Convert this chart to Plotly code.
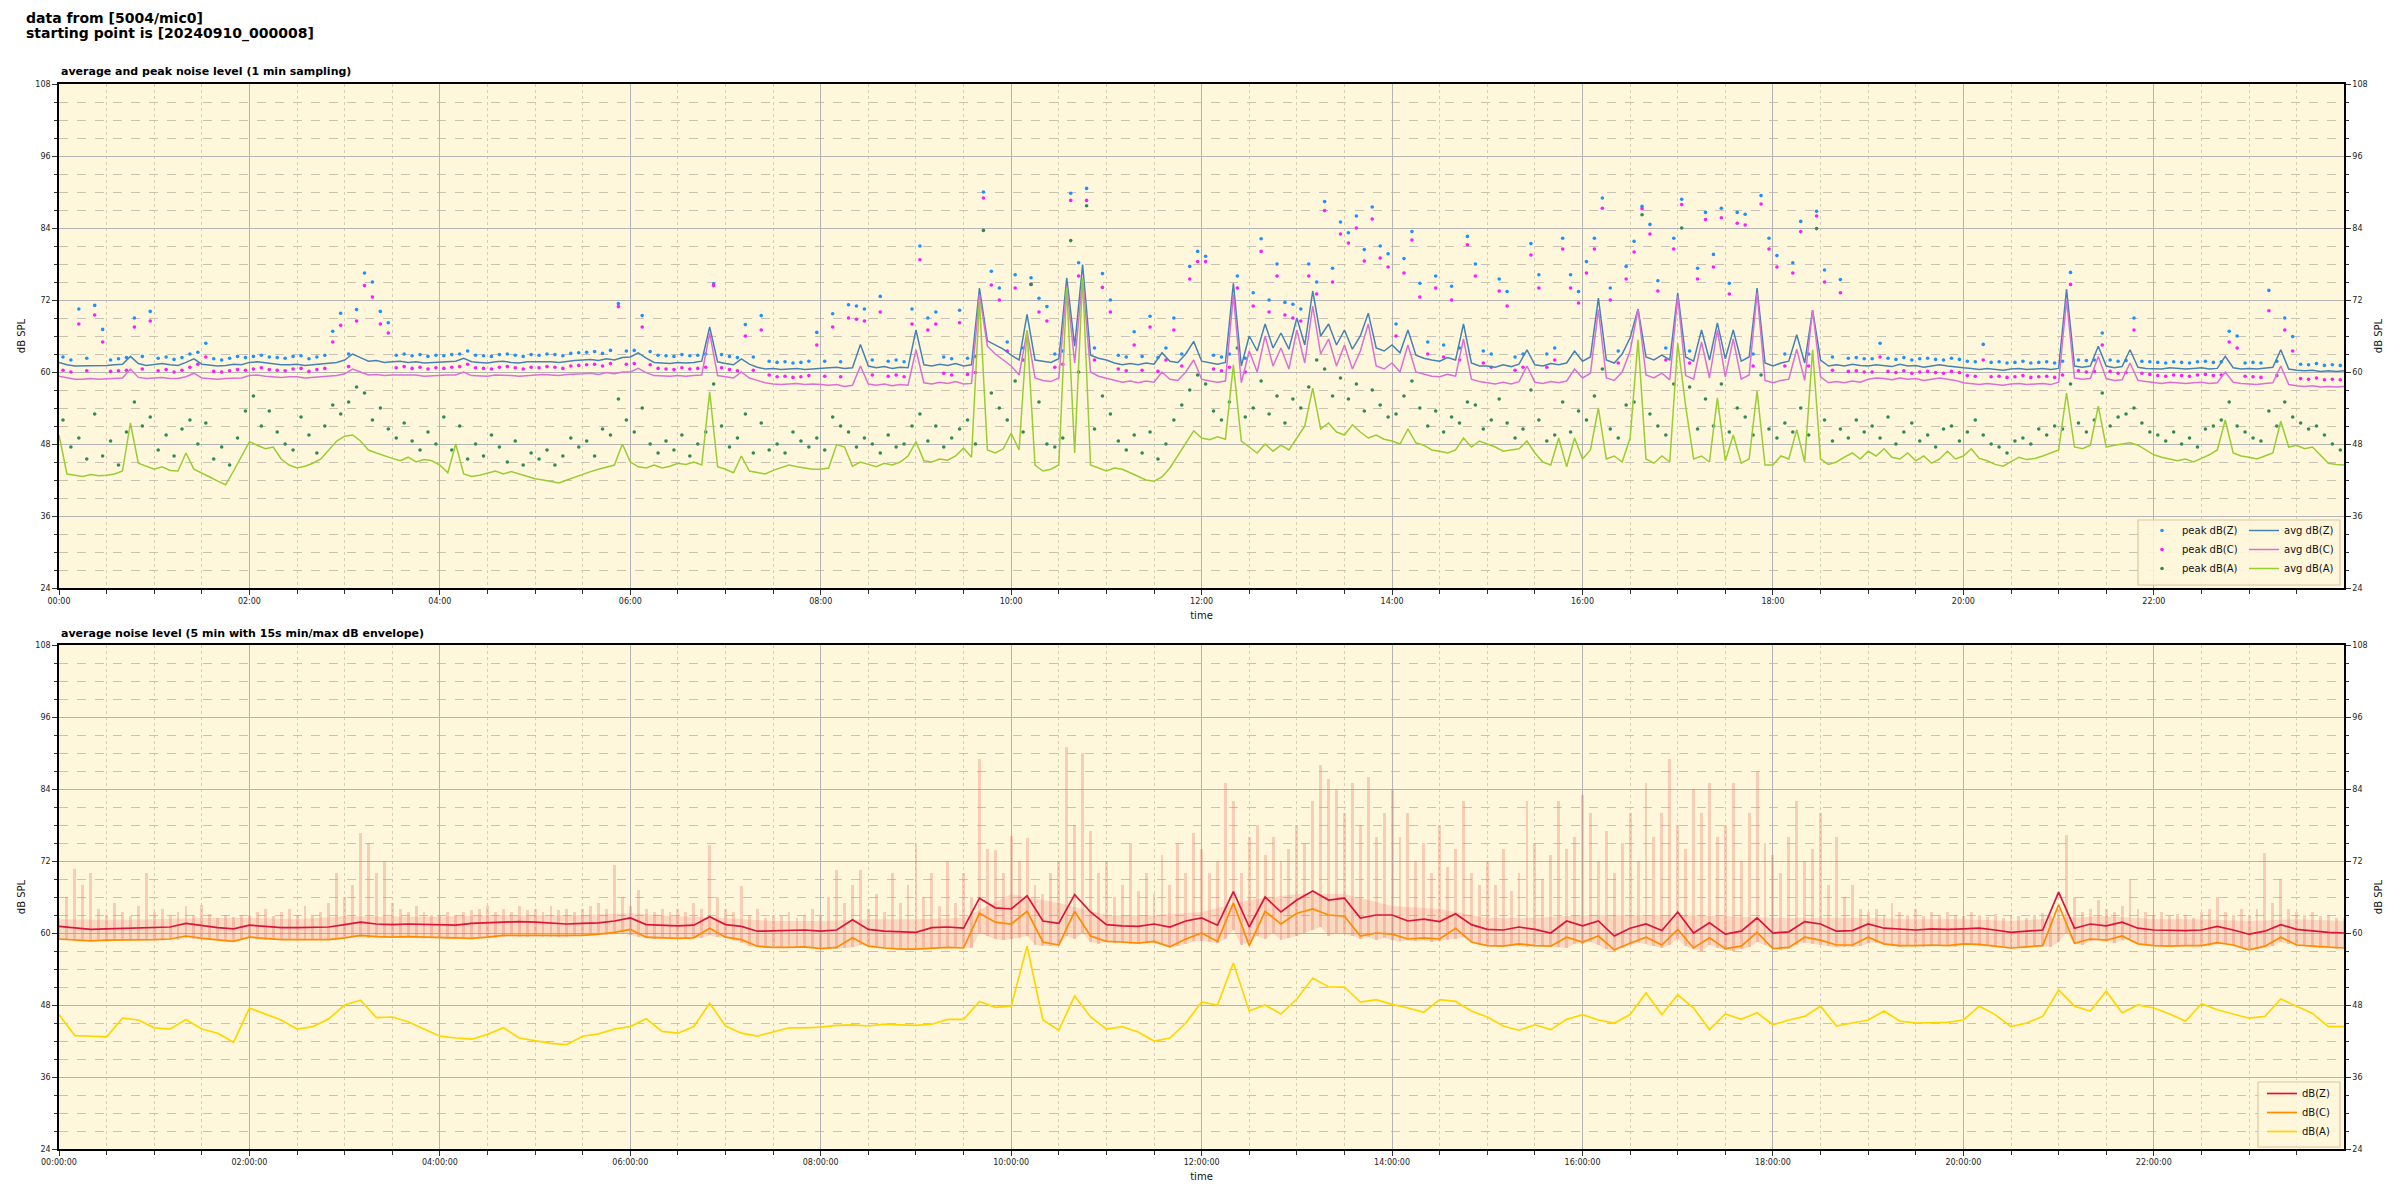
import pandas as pd
import plotly.graph_objects as go

START = "2024-09-10 00:00:00"
END = "2024-09-10 23:59:50"

# ---------------- top chart: 1 min sampling (read at 5-min steps) ----------------
avg_z = [
    61.6, 61.2, 61.0, 61.0, 61.1, 61.0, 61.1, 61.2, 61.3, 62.6, 61.4, 61.1,
    61.3, 61.4, 61.2, 61.1, 61.6, 62.2, 61.3, 61.2, 61.0, 61.1, 61.3, 61.2,
    61.6, 61.7, 61.5, 61.3, 61.2, 61.2, 61.3, 61.1, 61.2, 61.4, 61.5, 61.6,
    62.0, 63.0, 62.4, 61.8, 61.9, 61.6, 61.7, 61.8, 61.6, 61.7, 61.5, 61.6,
    61.6, 61.7, 61.8, 62.3, 61.7, 61.6, 61.5, 61.7, 61.8, 61.6, 61.5, 61.7,
    61.7, 61.8, 61.7, 61.6, 61.8, 61.9, 62.0, 62.1, 61.9, 62.2, 62.0, 62.4,
    62.5, 63.2, 62.3, 61.6, 61.5, 61.4, 61.6, 61.5, 61.6, 61.8, 67.5, 61.7,
    61.4, 61.2, 62.2, 61.3, 60.8, 60.5, 60.6, 60.4, 60.5, 60.6, 60.4, 60.5,
    60.6, 60.7, 60.8, 60.6, 60.7, 64.6, 61.0, 60.7, 60.9, 60.6, 60.8, 60.7,
    67.0, 61.2, 61.0, 61.3, 61.1, 61.4, 61.0, 61.2, 74.0, 65.2, 64.5, 63.8,
    62.8, 62.0, 69.6, 62.0, 61.8, 61.6, 62.2, 75.7, 64.3, 77.9, 62.8, 62.3,
    62.0, 61.5, 61.2, 61.4, 61.2, 61.5, 61.3, 63.2, 61.8, 61.6, 63.0, 65.1,
    61.8, 61.5, 61.3, 61.6, 74.8, 61.0, 66.0, 63.5, 68.0, 64.0, 66.5, 63.8,
    69.0, 64.5, 73.5, 66.0, 68.0, 64.5, 67.0, 63.8, 66.0, 69.8, 64.0, 63.5,
    64.5, 63.2, 67.0, 62.8, 62.3, 62.0, 61.8, 62.4, 62.0, 68.0, 61.5, 61.0,
    61.0, 60.8, 61.2, 60.9, 61.3, 63.7, 61.2, 61.0, 61.4, 61.2, 61.5, 63.5,
    61.8, 62.5, 72.3, 62.0, 61.5, 63.0, 65.7, 70.5, 62.5, 62.0, 62.8, 62.0,
    73.2, 62.5, 61.8, 67.0, 62.0, 68.2, 62.2, 67.0, 61.8, 62.5, 74.0, 61.5,
    61.0, 61.5, 61.8, 66.2, 61.5, 70.3, 62.0, 61.0, 61.2, 61.0, 61.3, 61.1,
    61.0, 61.2, 61.1, 60.9, 61.3, 61.0, 61.1, 60.8, 61.0, 61.2, 61.0, 60.8,
    60.7, 60.6, 60.4, 60.6, 60.5, 60.3, 60.5, 60.6, 60.4, 60.5, 60.6, 60.4,
    60.6, 73.8, 61.0, 60.8, 61.0, 64.3, 61.0, 60.7, 60.9, 63.7, 60.8, 60.6,
    60.6, 60.5, 60.7, 60.6, 60.5, 60.6, 60.7, 60.5, 60.6, 62.6, 60.7, 60.5,
    60.6, 60.5, 60.7, 60.8, 63.7, 60.5, 60.3, 60.2, 60.3, 60.1, 60.2, 60.1,
    60.2,
]
avg_c = [
    59.3, 59.0, 58.8, 58.8, 58.9, 58.8, 58.9, 59.0, 59.0, 60.5, 59.1, 58.9,
    59.0, 59.1, 58.9, 58.9, 59.2, 59.8, 59.0, 58.9, 58.8, 58.9, 59.0, 59.0,
    59.4, 59.5, 59.3, 59.2, 59.1, 59.2, 59.2, 59.0, 59.1, 59.3, 59.3, 59.4,
    59.7, 60.5, 60.0, 59.5, 59.6, 59.4, 59.5, 59.5, 59.4, 59.5, 59.3, 59.4,
    59.4, 59.5, 59.5, 60.0, 59.4, 59.4, 59.3, 59.5, 59.5, 59.4, 59.3, 59.4,
    59.5, 59.6, 59.5, 59.4, 59.6, 59.6, 59.7, 59.8, 59.6, 59.9, 59.7, 60.0,
    60.0, 60.6, 59.9, 59.4, 59.3, 59.3, 59.4, 59.3, 59.4, 59.5, 66.5, 59.4,
    59.2, 59.0, 60.0, 59.0, 58.6, 58.2, 58.0, 57.9, 58.0, 58.1, 57.9, 58.0,
    57.9, 57.8, 57.9, 57.6, 57.8, 61.0, 58.0, 57.8, 58.0, 57.7, 57.9, 57.8,
    63.7, 58.2, 58.0, 58.3, 58.1, 58.4, 58.0, 58.1, 73.0, 64.3, 63.0, 62.0,
    61.0, 59.5, 66.8, 59.0, 58.6, 58.4, 59.0, 74.3, 61.5, 75.7, 60.0, 59.3,
    59.0, 58.6, 58.3, 58.5, 58.2, 58.5, 58.3, 60.0, 58.8, 58.6, 60.0, 62.0,
    58.8, 58.5, 58.3, 58.5, 72.9, 58.2, 63.5, 60.0, 66.0, 61.0, 64.0, 60.5,
    67.0, 61.5, 71.0, 63.0, 65.5, 61.0, 64.5, 60.5, 63.5, 68.0, 61.0, 60.5,
    61.5, 60.0, 64.5, 60.0, 59.6, 59.3, 59.2, 59.6, 59.3, 65.5, 58.8, 58.4,
    58.2, 58.0, 58.3, 58.0, 58.4, 61.0, 58.3, 58.1, 58.4, 58.2, 58.5, 60.5,
    59.0, 59.8, 70.4, 59.0, 58.6, 60.0, 63.5, 70.4, 59.5, 59.0, 59.8, 58.7,
    72.6, 59.4, 58.8, 65.0, 59.0, 67.0, 59.2, 65.5, 58.8, 59.5, 73.2, 58.6,
    58.2, 58.6, 58.8, 63.8, 58.6, 70.3, 59.2, 58.2, 58.4, 58.2, 58.5, 58.3,
    58.8, 59.0, 58.9, 58.7, 59.0, 58.8, 58.9, 58.6, 58.8, 59.0, 58.8, 58.6,
    58.2, 58.1, 57.9, 58.1, 58.0, 57.8, 58.0, 58.1, 57.9, 58.0, 58.1, 57.9,
    58.3, 72.0, 59.0, 58.8, 58.9, 62.6, 58.9, 58.6, 58.7, 61.5, 58.6, 58.4,
    58.2, 58.1, 58.3, 58.2, 58.1, 58.2, 58.3, 58.1, 58.2, 60.0, 58.3, 58.1,
    58.0, 57.9, 58.1, 58.2, 61.0, 57.9, 57.7, 57.6, 57.7, 57.5, 57.6, 57.5,
    57.6,
]
avg_a = [
    49.5, 43.0, 42.8, 42.6, 42.9, 42.7, 42.8, 43.0, 43.5, 51.5, 44.8, 44.3,
    43.8, 44.2, 43.6, 43.5, 46.5, 43.8, 43.2, 42.5, 41.8, 41.2, 43.5, 46.0,
    48.4, 47.8, 47.2, 47.5, 45.5, 44.5, 44.0, 44.3, 44.8, 45.5, 47.0, 48.5,
    49.3, 49.5, 48.5, 47.0, 46.5, 46.0, 45.6, 45.2, 45.8, 45.0, 45.4, 45.2,
    44.5, 43.2, 48.0, 43.0, 42.6, 42.8, 43.2, 43.5, 43.0, 43.4, 43.0, 42.6,
    42.2, 42.0, 41.8, 41.5, 42.0, 42.5, 43.0, 43.4, 43.8, 44.2, 44.5, 48.0,
    45.0, 44.2, 44.0, 44.5, 44.0, 44.3, 44.8, 44.6, 45.0, 44.5, 56.7, 44.2,
    43.8, 43.2, 46.0, 43.5, 43.2, 43.0, 43.6, 44.0, 44.5, 44.2, 44.0, 43.8,
    43.8, 44.0, 47.9, 47.5, 44.3, 45.0, 44.6, 44.2, 44.8, 44.5, 45.0, 46.0,
    48.4, 45.2, 45.0, 45.5, 45.3, 46.0, 47.3, 45.8, 72.0, 47.0, 46.5, 47.2,
    49.8, 47.0, 67.0, 44.5, 43.5, 43.8, 44.5, 74.0, 46.5, 75.7, 44.5, 44.0,
    43.5, 44.0, 43.8, 43.2, 42.6, 42.0, 41.8, 42.5, 44.0, 46.0, 48.0, 50.2,
    49.0, 48.7, 49.2, 48.8, 61.2, 48.5, 47.5, 46.5, 48.0, 46.8, 47.8, 47.0,
    49.0, 51.0, 57.3, 50.5, 51.5, 50.0, 49.5, 51.2, 50.0, 49.0, 49.5, 48.8,
    48.5, 48.0, 50.5, 48.2, 47.8, 47.0, 46.8, 46.5, 47.0, 49.0, 47.5, 48.5,
    48.0, 47.5, 46.8, 47.0, 47.2, 48.5, 46.5, 45.0, 44.5, 49.0, 44.2, 49.0,
    45.5, 47.0, 54.0, 45.5, 46.0, 45.0, 49.0, 65.4, 45.5, 44.8, 46.0, 45.0,
    64.8, 54.3, 45.5, 46.0, 45.0, 55.7, 45.2, 49.5, 44.8, 45.5, 56.8, 44.5,
    44.5, 46.0, 45.5, 50.4, 45.0, 63.7, 45.5, 44.6, 45.0, 45.8, 46.5, 45.5,
    46.8, 46.0, 47.2, 45.8, 45.5, 46.5, 45.2, 46.0, 44.8, 45.5, 46.8, 45.5,
    46.0, 47.2, 45.6, 45.2, 44.6, 44.3, 45.0, 45.8, 45.4, 45.6, 46.0, 46.5,
    47.0, 56.5, 47.5, 47.2, 47.8, 54.3, 47.5, 47.8, 48.0, 48.2, 47.8, 47.0,
    46.2, 45.8, 45.5, 45.2, 45.5, 45.0, 45.6, 46.2, 47.0, 52.0, 46.5, 46.0,
    45.8, 45.5, 46.0, 46.5, 51.8, 47.5, 47.8, 47.2, 47.5, 46.2, 44.8, 44.6,
    44.5,
]
peak_z = [
    62.5, 62.0, 70.5, 62.3, 71.1, 67.1, 62.0, 62.2, 62.4, 69.0, 62.6, 70.1,
    62.3, 62.5, 62.1, 62.4, 63.0, 63.3, 64.8, 62.2, 62.0, 62.3, 62.6, 62.4,
    62.6, 62.8, 62.5, 62.4, 62.3, 62.6, 62.7, 62.2, 62.5, 62.8, 66.8, 69.8,
    63.0, 70.4, 76.5, 75.0, 70.1, 68.2, 62.8, 63.0, 62.7, 62.9, 62.6, 62.8,
    62.7, 62.9, 63.0, 63.5, 62.8, 62.7, 62.6, 62.9, 63.0, 62.8, 62.6, 62.9,
    62.8, 63.0, 62.9, 62.7, 63.1, 63.2, 63.3, 63.4, 63.1, 63.6, 71.4, 63.5,
    63.6, 69.4, 63.4, 62.8, 62.7, 62.6, 62.9, 62.7, 62.8, 63.0, 74.7, 62.9,
    62.6, 62.4, 67.9, 62.5, 69.4, 61.8, 61.6, 61.7, 61.5, 61.6, 61.8, 66.6,
    61.8, 69.7, 61.7, 71.2, 71.0, 70.5, 62.0, 72.6, 61.8, 62.0, 61.7, 70.5,
    81.0, 69.0, 70.0, 62.5, 62.2, 70.3, 62.3, 62.6, 90.0, 76.8, 74.0, 65.0,
    76.2, 64.0, 75.7, 72.3, 70.9, 63.0, 63.5, 89.8, 78.2, 90.6, 64.0, 76.4,
    72.0, 62.8, 62.5, 66.7, 62.6, 69.3, 62.4, 64.0, 69.0, 63.0, 77.6, 80.1,
    79.3, 62.8, 62.5, 63.0, 76.0, 62.3, 73.2, 82.2, 72.0, 78.0, 71.6, 71.3,
    70.5, 78.0, 75.0, 88.4, 77.3, 85.0, 83.2, 86.0, 80.4, 87.5, 81.0, 79.7,
    68.0, 78.9, 83.4, 74.8, 65.0, 76.0, 64.5, 74.3, 64.0, 82.6, 78.0, 63.5,
    63.0, 75.5, 73.4, 62.5, 63.0, 81.4, 76.2, 63.0, 64.0, 82.3, 76.2, 73.4,
    78.4, 82.3, 89.0, 74.0, 63.5, 77.6, 81.8, 87.6, 84.6, 75.2, 64.0, 82.3,
    88.8, 63.5, 77.3, 86.6, 79.6, 87.3, 74.8, 86.6, 86.3, 63.0, 89.4, 82.3,
    79.4, 63.0, 78.2, 85.1, 63.0, 86.8, 77.0, 62.5, 75.4, 62.3, 62.4, 62.2,
    62.2, 64.8, 62.3, 62.1, 62.4, 62.0, 62.2, 62.3, 62.1, 62.0, 62.3, 62.1,
    61.8, 61.7, 64.6, 61.6, 61.7, 61.5, 61.6, 61.8, 61.5, 61.6, 61.7, 61.5,
    61.8, 76.6, 62.0, 61.9, 62.0, 66.5, 62.0, 61.8, 61.9, 69.0, 61.8, 61.7,
    61.6, 61.5, 61.7, 61.6, 61.5, 61.7, 61.8, 61.6, 61.7, 66.8, 66.0, 61.5,
    61.6, 61.5, 73.6, 61.8, 69.0, 65.9, 61.3, 61.2, 61.4, 61.1, 61.2, 61.1,
]
peak_c = [
    60.3, 60.0, 68.0, 60.2, 69.5, 65.0, 60.1, 60.2, 60.3, 67.5, 60.5, 68.5,
    60.2, 60.4, 60.0, 60.3, 60.8, 61.3, 62.5, 60.1, 60.0, 60.2, 60.4, 60.3,
    60.5, 60.7, 60.4, 60.3, 60.2, 60.5, 60.6, 60.1, 60.4, 60.6, 65.0, 67.8,
    60.9, 68.5, 74.4, 72.5, 68.0, 66.5, 60.7, 60.9, 60.6, 60.8, 60.5, 60.7,
    60.6, 60.8, 60.9, 61.3, 60.7, 60.6, 60.5, 60.8, 60.9, 60.7, 60.5, 60.8,
    60.7, 60.9, 60.8, 60.6, 61.0, 61.1, 61.2, 61.3, 61.0, 61.4, 70.9, 61.3,
    61.4, 67.5, 61.2, 60.6, 60.5, 60.4, 60.7, 60.5, 60.6, 60.8, 74.4, 60.7,
    60.4, 60.2, 66.0, 60.3, 67.0, 59.5, 59.2, 59.3, 59.1, 59.2, 59.4, 64.5,
    59.3, 67.5, 59.2, 69.0, 68.8, 68.5, 59.5, 70.0, 59.3, 59.5, 59.2, 68.0,
    78.7, 67.0, 68.0, 59.8, 59.5, 68.2, 59.6, 59.9, 89.0, 74.5, 72.0, 63.5,
    74.0, 62.0, 74.6, 70.0, 68.5, 60.8, 61.3, 88.6, 76.0, 88.6, 62.0, 74.1,
    70.0, 60.5, 60.2, 64.5, 60.3, 67.5, 60.1, 62.0, 67.0, 61.0, 75.5, 78.4,
    78.4, 60.5, 60.2, 60.8, 74.0, 60.0, 71.0, 80.1, 70.0, 76.0, 69.5, 69.0,
    68.5, 76.0, 73.0, 86.9, 75.0, 83.0, 81.5, 84.0, 78.5, 85.5, 79.0, 77.5,
    66.0, 76.5, 82.0, 72.5, 63.0, 74.0, 62.5, 72.0, 62.0, 81.2, 76.0, 61.5,
    60.8, 73.5, 71.0, 60.3, 60.8, 79.5, 74.0, 60.8, 62.0, 80.5, 74.0, 71.5,
    76.5, 80.5, 87.3, 72.0, 61.5, 75.5, 80.0, 87.2, 83.0, 73.5, 62.0, 80.5,
    87.9, 61.5, 75.5, 85.4, 77.5, 85.7, 73.0, 84.8, 84.5, 61.0, 88.0, 80.5,
    77.5, 61.0, 76.5, 83.4, 61.0, 86.0, 75.0, 60.3, 73.2, 60.1, 60.2, 60.0,
    60.0, 62.5, 60.1, 59.9, 60.2, 59.8, 60.0, 60.1, 59.9, 59.8, 60.1, 59.9,
    59.4, 59.3, 62.0, 59.2, 59.3, 59.1, 59.2, 59.4, 59.1, 59.2, 59.3, 59.1,
    59.5, 74.6, 60.2, 60.0, 60.1, 64.5, 60.1, 59.8, 59.9, 67.0, 59.8, 59.6,
    59.4, 59.3, 59.5, 59.4, 59.3, 59.5, 59.6, 59.4, 59.5, 65.0, 64.0, 59.3,
    59.2, 59.1, 70.2, 59.4, 67.0, 63.5, 58.9, 58.8, 59.0, 58.7, 58.8, 58.7,
]
peak_a = [
    52.0, 47.5, 49.0, 45.5, 53.0, 46.0, 48.5, 44.5, 50.0, 55.0, 51.0, 52.5,
    47.0, 49.5, 46.0, 50.5, 52.0, 48.0, 51.5, 45.5, 47.5, 44.5, 49.0, 53.5,
    56.0, 51.0, 53.5, 50.0, 48.0, 47.0, 52.5, 49.5, 46.5, 51.0, 54.5, 53.0,
    55.0, 57.5, 56.5, 52.0, 54.0, 50.5, 49.0, 51.5, 48.5, 47.0, 50.0, 48.0,
    52.5, 47.0, 51.0, 45.5, 48.0, 46.0, 49.5, 47.5, 45.0, 48.5, 44.5, 46.5,
    45.5, 47.0, 44.5, 46.0, 49.0, 47.5, 48.5, 46.0, 50.5, 49.5, 55.5, 52.0,
    50.0, 54.0, 48.0, 46.5, 48.5, 47.0, 49.5, 46.0, 48.0, 50.0, 58.0, 51.0,
    47.5, 49.0, 53.0, 46.5, 51.5, 47.0, 48.0, 46.5, 50.0, 48.5, 47.5, 49.0,
    47.0, 52.5, 51.0, 50.0, 47.5, 49.0, 48.0, 46.5, 49.5, 47.5, 48.0, 51.0,
    53.0, 48.5, 51.0, 47.5, 49.0, 50.5, 52.0, 48.0, 83.6, 56.5, 54.0, 52.0,
    58.5, 50.0, 74.6, 55.0, 48.0, 47.5, 49.0, 81.9, 60.0, 87.7, 50.5, 56.0,
    53.0, 48.5, 47.0, 49.5, 46.5, 50.0, 45.5, 48.0, 52.0, 54.5, 57.0, 59.5,
    58.0, 53.5, 52.0, 55.0, 64.0, 52.5, 54.0, 58.5, 53.0, 56.0, 51.5, 55.5,
    54.0, 57.5, 62.0, 60.5, 56.0, 59.0, 55.5, 58.0, 53.5, 57.0, 54.5, 52.5,
    53.0, 56.0, 58.5, 54.0, 51.0, 53.5, 50.0, 52.5, 51.5, 55.0, 54.5, 50.5,
    52.0, 55.5, 51.5, 49.0, 50.5, 57.0, 52.0, 48.5, 49.5, 55.0, 50.0, 53.5,
    52.0, 56.0, 60.5, 50.5, 49.0, 54.5, 55.0, 86.2, 53.0, 51.0, 49.5, 58.0,
    84.0, 57.5, 50.5, 55.5, 51.0, 58.0, 50.0, 54.0, 52.5, 49.5, 59.5, 50.5,
    49.0, 51.5, 50.0, 54.0, 49.5, 83.9, 52.0, 48.5, 50.5, 49.0, 52.0, 50.0,
    51.0, 49.0, 52.5, 48.0, 50.0, 51.5, 48.5, 49.5, 47.5, 50.5, 51.0, 48.5,
    50.0, 52.0, 49.5, 48.0, 47.5, 46.5, 48.5, 49.0, 48.0, 50.5, 49.5, 51.0,
    50.5, 58.0, 51.5, 50.0, 52.0, 56.5, 51.0, 52.5, 53.0, 54.0, 51.5, 50.0,
    49.5, 48.5, 50.0, 48.0, 49.0, 47.5, 50.5, 51.0, 52.0, 55.0, 51.0, 50.0,
    49.0, 48.5, 53.5, 51.0, 55.0, 52.5, 51.5, 50.5, 51.0, 49.5, 48.0, 47.0,
]

# ---------------- bottom chart: 5 min averages (read at 10-min steps) ----------------
lvl_z = [
    61.1, 60.8, 60.6, 60.7, 60.8, 60.9, 60.9, 61.0, 61.6, 61.2, 60.9, 60.7,
    61.3, 61.1, 60.9, 60.9, 60.9, 61.0, 61.4, 61.8, 61.5, 61.4, 61.5, 61.4,
    61.4, 61.3, 61.6, 61.7, 61.9, 61.9, 61.8, 61.6, 61.5, 61.6, 61.7, 62.0,
    62.5, 61.4, 61.3, 61.2, 61.3, 62.7, 61.4, 61.1, 60.3, 60.4, 60.4, 60.5,
    60.3, 60.5, 62.2, 60.6, 60.3, 60.2, 60.1, 60.9, 61.0, 60.8, 65.8, 64.2,
    64.0, 66.2, 62.0, 61.6, 66.4, 63.5, 61.4, 61.2, 61.1, 61.5, 61.0, 62.0,
    62.5, 61.3, 66.9, 61.0, 66.0, 63.5, 65.5, 67.0, 65.5, 65.8, 62.5, 63.0,
    63.0, 62.0, 62.3, 61.9, 63.2, 61.4, 60.6, 60.5, 61.0, 60.6, 60.0, 62.0,
    61.2, 62.0, 59.5, 60.8, 61.5, 60.4, 63.5, 60.0, 61.7, 59.8, 60.3, 62.5,
    60.0, 60.2, 61.9, 61.5, 60.3, 60.4, 61.5, 60.8, 60.6, 60.5, 60.7, 60.6,
    60.7, 60.8, 60.5, 60.1, 60.3, 60.5, 66.8, 60.8, 61.5, 61.2, 61.8, 60.8,
    60.5, 60.4, 60.4, 60.5, 61.1, 60.5, 59.8, 60.3, 61.4, 60.6, 60.3, 60.1,
    60.0,
]
lvl_c = [
    59.0, 58.8, 58.7, 58.8, 58.8, 58.9, 58.9, 59.0, 59.5, 59.1, 58.9, 58.6,
    59.3, 59.1, 58.9, 58.9, 58.9, 58.9, 59.2, 59.6, 59.4, 59.3, 59.4, 59.3,
    59.2, 59.1, 59.1, 59.3, 59.6, 59.6, 59.6, 59.5, 59.5, 59.6, 59.8, 60.1,
    60.6, 59.3, 59.2, 59.1, 59.2, 60.8, 59.3, 58.9, 57.8, 57.6, 57.6, 57.7,
    57.4, 57.6, 59.2, 57.8, 57.5, 57.3, 57.3, 57.5, 57.6, 57.5, 63.3, 61.8,
    61.5, 63.6, 58.5, 58.0, 63.6, 59.5, 58.6, 58.5, 58.3, 58.6, 57.7, 59.0,
    60.0, 58.6, 65.0, 57.9, 63.6, 61.5, 63.3, 64.0, 63.0, 62.8, 59.5, 60.0,
    59.8, 59.0, 59.2, 59.0, 60.8, 58.5, 57.9, 57.8, 58.2, 57.9, 57.8, 59.3,
    58.5, 59.5, 57.2, 58.3, 59.3, 58.0, 60.6, 57.5, 59.2, 57.4, 57.8, 60.1,
    57.4, 57.6, 59.3, 58.8, 58.0, 58.0, 59.3, 58.2, 57.9, 57.9, 58.0, 57.9,
    58.2, 58.1, 57.8, 57.5, 57.7, 57.9, 64.7, 58.3, 59.0, 58.8, 59.5, 58.2,
    57.9, 57.8, 57.9, 57.9, 58.4, 58.0, 57.2, 57.8, 59.3, 58.0, 57.8, 57.6,
    57.5,
]
lvl_a = [
    46.4, 42.9, 42.8, 42.7, 45.8, 45.5, 44.2, 44.0, 45.6, 44.0, 43.3, 41.8,
    47.5, 46.5, 45.5, 44.0, 44.4, 45.7, 48.0, 48.8, 45.9, 46.0, 45.2, 44.0,
    42.8, 42.5, 42.3, 43.1, 44.2, 42.5, 42.0, 41.6, 41.4, 42.8, 43.2, 44.0,
    44.4, 45.7, 43.6, 43.3, 44.4, 48.3, 44.5, 43.3, 42.8, 43.5, 44.2, 44.2,
    44.3, 44.6, 44.7, 44.5, 44.8, 44.7, 44.6, 44.8, 45.6, 45.6, 48.6, 47.6,
    47.8, 57.8, 45.5, 43.8, 49.5, 46.0, 44.0, 44.4, 43.5, 42.0, 42.5, 45.0,
    48.5, 48.0, 55.0, 47.0, 48.0, 46.5, 49.0, 52.5, 51.0, 51.0, 48.5, 48.9,
    48.1, 47.5, 46.8, 48.9, 48.6, 47.0, 46.0, 44.5, 43.8, 44.7, 43.9, 45.6,
    46.4, 45.5, 45.0, 46.4, 50.0, 46.4, 49.7, 47.5, 43.9, 46.5, 45.6, 46.7,
    44.7, 45.5, 46.1, 47.8, 44.5, 45.0, 45.5, 47.0, 45.3, 45.0, 45.1, 45.1,
    45.5, 47.8, 46.4, 44.4, 45.0, 46.1, 50.5, 47.8, 47.0, 50.3, 46.7, 48.0,
    47.5, 46.5, 45.3, 48.2, 47.2, 46.5, 45.8, 46.1, 49.0, 47.8, 46.6, 44.4,
    44.4,
]
# 15 s min/max envelope: spike tops and floor read at 5-min steps
env_max = [
    62.5, 66.0, 70.6, 68.0, 70.0, 64.0, 63.0, 65.0, 63.5, 62.8, 64.5, 70.0,
    63.5, 64.0, 62.8, 63.5, 64.5, 63.0, 64.7, 63.2, 62.5, 63.0, 62.6, 63.0,
    63.0, 63.5, 64.0, 62.8, 63.5, 64.0, 63.0, 64.5, 62.8, 63.5, 65.0, 70.0,
    66.0, 68.0, 76.7, 75.0, 70.0, 72.0, 65.0, 64.0, 63.5, 64.5, 63.5, 63.0,
    63.0, 63.5, 63.0, 63.5, 63.8, 64.0, 64.5, 63.5, 64.0, 63.5, 64.5, 63.8,
    64.0, 63.5, 64.5, 63.8, 64.0, 63.5, 64.0, 64.5, 65.0, 64.0, 71.4, 66.0,
    64.5, 67.2, 64.0, 63.5, 64.0, 63.5, 64.0, 63.5, 65.0, 64.0, 74.7, 66.0,
    64.0, 63.5, 67.8, 63.0, 64.0, 62.5, 63.0, 62.8, 63.5, 62.5, 63.0, 64.0,
    62.8, 66.0, 70.5, 65.0, 68.0, 70.5, 64.0, 66.5, 63.5, 70.0, 65.0, 68.0,
    75.0, 66.0, 70.0, 64.5, 72.0, 65.0, 70.0, 66.0, 89.0, 74.0, 73.9, 70.0,
    76.1, 72.0, 75.8, 68.0, 66.5, 70.0, 72.0, 91.0, 78.0, 90.0, 77.0, 70.0,
    72.0, 66.0, 68.0, 75.0, 67.0, 70.0, 66.5, 73.0, 68.0, 75.0, 70.0, 76.7,
    74.0, 70.0, 72.0, 85.0, 82.0, 70.0, 76.0, 78.0, 73.0, 76.0, 72.0, 74.0,
    78.0, 75.0, 82.0, 88.0, 85.7, 83.9, 80.0, 85.0, 78.0, 86.0, 76.0, 80.0,
    84.0, 76.0, 80.0, 72.0, 75.0, 70.0, 78.0, 71.0, 74.0, 82.0, 70.0, 68.0,
    72.0, 68.0, 74.0, 67.0, 70.0, 82.0, 75.0, 69.0, 73.0, 82.0, 74.0, 76.0,
    83.0, 80.0, 72.0, 77.0, 70.0, 75.0, 80.0, 72.0, 85.0, 76.0, 80.0, 89.0,
    78.0, 74.0, 84.0, 80.0, 85.0, 76.0, 78.0, 85.0, 72.0, 80.0, 87.0, 75.0,
    73.0, 70.0, 76.0, 82.0, 72.0, 74.0, 80.0, 68.0, 76.0, 66.0, 68.0, 64.0,
    63.5, 64.0, 63.0, 65.0, 63.5, 63.0, 64.0, 62.8, 63.5, 63.0, 63.5, 63.0,
    62.8, 63.5, 63.0, 62.6, 63.2, 62.5, 63.0, 62.8, 62.5, 63.0, 63.4, 63.0,
    64.0, 76.4, 66.0, 63.5, 64.0, 65.5, 64.0, 63.5, 64.5, 68.9, 64.0, 63.5,
    63.0, 63.5, 62.8, 63.2, 63.0, 62.5, 63.5, 64.0, 66.0, 63.5, 63.0, 64.0,
    63.0, 64.0, 73.3, 65.0, 69.0, 64.0, 63.5, 63.0, 63.5, 62.8, 63.0, 62.5,
    62.5,
]
env_min = [
    59.0, 58.9, 58.8, 58.7, 58.8, 58.9, 58.8, 58.7, 58.8, 59.0, 58.9, 58.8,
    58.9, 58.8, 59.0, 58.9, 59.2, 59.0, 59.0, 58.9, 58.8, 58.7, 58.6, 58.9,
    59.2, 59.0, 58.9, 58.9, 58.8, 58.9, 58.9, 58.8, 58.9, 59.0, 58.9, 59.0,
    59.2, 59.4, 59.3, 59.2, 59.3, 59.2, 59.3, 59.2, 59.3, 59.2, 59.1, 59.2,
    59.1, 59.0, 59.0, 59.1, 59.0, 59.2, 59.3, 59.2, 59.4, 59.5, 59.4, 59.4,
    59.5, 59.4, 59.4, 59.3, 59.4, 59.5, 59.5, 59.6, 59.6, 59.7, 59.8, 60.0,
    59.6, 59.4, 59.1, 59.0, 59.1, 59.0, 59.1, 59.0, 59.1, 59.2, 59.6, 59.3,
    59.2, 58.8, 58.4, 57.8, 57.6, 57.5, 57.8, 57.5, 57.6, 57.5, 57.6, 57.5,
    57.5, 57.3, 57.4, 57.5, 57.6, 58.0, 57.8, 57.6, 57.4, 57.3, 57.2, 57.3,
    57.4, 57.3, 57.4, 57.5, 57.6, 57.5, 57.6, 57.5, 60.0, 59.5, 59.0, 58.8,
    59.0, 59.2, 59.5, 58.0, 57.9, 57.8, 58.0, 59.5, 59.0, 60.0, 58.5, 58.2,
    58.5, 58.4, 58.3, 58.2, 58.4, 58.3, 58.3, 58.0, 57.6, 57.8, 58.2, 58.6,
    58.7, 58.5, 58.3, 59.0, 60.5, 58.0, 58.5, 59.5, 59.0, 60.0, 58.8, 59.2,
    59.5, 60.0, 60.5, 61.0, 59.5, 60.0, 59.8, 59.5, 59.0, 59.3, 58.8, 59.2,
    58.8, 58.6, 58.8, 58.6, 58.8, 58.5, 58.7, 58.9, 59.0, 59.3, 58.5, 58.0,
    57.9, 57.8, 57.8, 57.9, 57.8, 57.7, 57.8, 57.9, 57.7, 57.6, 57.5, 58.2,
    58.2, 58.5, 58.0, 57.3, 57.0, 57.5, 58.0, 58.4, 58.2, 57.8, 57.5, 58.0,
    59.0, 57.8, 57.3, 57.0, 58.0, 57.5, 57.2, 57.0, 57.3, 57.6, 58.5, 58.0,
    57.5, 57.2, 57.4, 58.0, 58.4, 58.2, 58.0, 57.8, 57.6, 57.6, 57.7, 57.8,
    58.3, 58.4, 58.0, 57.8, 57.7, 57.8, 57.9, 57.7, 57.8, 57.9, 57.8, 57.7,
    58.2, 58.0, 57.9, 57.8, 57.6, 57.5, 57.4, 57.5, 57.6, 57.7, 57.8, 57.7,
    58.5, 60.0, 58.3, 58.0, 58.6, 58.8, 58.6, 58.3, 58.8, 59.0, 58.2, 58.0,
    58.0, 57.8, 57.7, 57.8, 57.9, 58.0, 57.8, 57.9, 58.1, 58.2, 57.9, 57.6,
    57.4, 57.3, 57.6, 57.8, 58.5, 58.2, 57.9, 57.8, 57.6, 57.5, 57.5, 57.4,
    57.4,
]
# upper edge of the dense part of the envelope (read at 30-min steps)
env_band = [
    62.3, 62.2, 62.3, 62.5, 62.5, 62.3, 62.8, 62.8, 62.7, 63.0, 63.0, 63.0,
    63.3, 62.8, 62.5, 62.0, 62.0, 62.3, 62.3, 62.5, 66.5, 65.0, 63.0, 63.0,
    63.5, 65.5, 66.5, 66.5, 64.5, 64.0, 62.5, 62.5, 63.0, 63.0, 63.0, 62.8,
    62.5, 62.5, 62.5, 62.3, 62.3, 62.0, 62.5, 62.8, 62.3, 62.3, 62.0, 62.3,
    62.0,
]

y_ticks = [24, 36, 48, 60, 72, 84, 96, 108]

# time grids
t5 = list(pd.date_range(START, periods=len(avg_z), freq="5min"))
tp = list(pd.date_range("2024-09-10 00:02:30", periods=len(peak_z), freq="5min"))
t10 = list(pd.date_range(START, periods=len(lvl_z), freq="10min"))
t30 = list(pd.date_range(START, periods=len(env_band), freq="30min"))

# ---------------- geometry (screen pixels -> paper) ----------------
OFF = 8                       # page body margin in the browser
W, H = 2400 - OFF, 1200 - OFF
SL, SR, ST, SB = 59, 2344, 84, 1149   # plot-area edges on screen
ML, MT = SL - OFF, ST - OFF
MR, MB = W - (SR - OFF), H - (SB - OFF)


def px(x):
    return (x - SL) / (SR - SL)


def py(y):
    return (SB - y) / (SB - ST)


FONT = "DejaVu Sans"
BG = "#fff7dc"

fig = go.Figure()

# top: peaks first, then averages
for name, vals, col in [("peak dB(Z)", peak_z, "#1e90ff"),
                        ("peak dB(C)", peak_c, "#ff1aff"),
                        ("peak dB(A)", peak_a, "#2e8b57")]:
    fig.add_trace(go.Scatter(x=tp, y=vals, mode="markers", name=name,
                             marker=dict(color=col, size=3.6, symbol="circle"),
                             legend="legend", xaxis="x", yaxis="y"))
for name, vals, col in [("avg dB(Z)", avg_z, "#4682b4"),
                        ("avg dB(C)", avg_c, "#da70d6"),
                        ("avg dB(A)", avg_a, "#9acd32")]:
    fig.add_trace(go.Scatter(x=t5, y=vals, mode="lines", name=name,
                             line=dict(color=col, width=1.5),
                             legend="legend2", xaxis="x", yaxis="y"))

# bottom: envelope (dense band + thin spikes)
fig.add_trace(go.Scatter(x=t30 + t5[::-1], y=env_band + env_min[::-1], fill="toself",
                         fillcolor="rgba(235,120,105,0.22)", line=dict(width=0),
                         mode="lines", showlegend=False, hoverinfo="skip",
                         xaxis="x2", yaxis="y2"))
fig.add_trace(go.Bar(x=t5, y=[mx - mn for mx, mn in zip(env_max, env_min)], base=env_min,
                     width=110000, marker=dict(color="rgba(235,120,105,0.33)", line=dict(width=0)),
                     showlegend=False, hoverinfo="skip", xaxis="x2", yaxis="y2"))
for name, vals, col in [("dB(Z)", lvl_z, "#dc143c"),
                        ("dB(C)", lvl_c, "#ff8c00"),
                        ("dB(A)", lvl_a, "#ffd700")]:
    fig.add_trace(go.Scatter(x=t10, y=vals, mode="lines", name=name,
                             line=dict(color=col, width=1.7),
                             legend="legend3", xaxis="x2", yaxis="y2"))

# invisible carriers for the right-hand axes
fig.add_trace(go.Scatter(x=t5, y=avg_z, mode="lines", opacity=0, showlegend=False,
                         hoverinfo="skip", xaxis="x", yaxis="y3"))
fig.add_trace(go.Scatter(x=t10, y=lvl_z, mode="lines", opacity=0, showlegend=False,
                         hoverinfo="skip", xaxis="x2", yaxis="y4"))

tickfont = dict(family=FONT, size=8, color="#222")
titlefont = dict(family=FONT, size=10, color="#111")


def xaxis(fmt, anchor):
    return dict(type="date", range=[START, END], tick0=START, dtick=7200000,
                tickformat=fmt, anchor=anchor, domain=[0, 1],
                showgrid=True, gridcolor="#b4b4b4", gridwidth=1.2,
                ticks="outside", ticklen=5, tickwidth=1, tickcolor="#333",
                showline=True, linecolor="black", linewidth=1.5, mirror=True,
                zeroline=False, tickfont=tickfont,
                title=dict(text="time", font=titlefont, standoff=7),
                minor=dict(dtick=1800000, tick0=START, ticks="outside", ticklen=4,
                           tickcolor="#333", showgrid=True, gridcolor="#d8ceb4",
                           griddash="dot", gridwidth=1))


def yaxis(domain, anchor, side="left", overlay=None):
    d = dict(range=[24, 108], tickvals=y_ticks, anchor=anchor, side=side,
             showgrid=(overlay is None), gridcolor="#b4b4b4", gridwidth=1.2,
             ticks="outside", ticklen=5, tickwidth=1, tickcolor="#333",
             showline=True, linecolor="black", linewidth=1.5,
             zeroline=False, tickfont=tickfont,
             title=dict(text="dB SPL", font=titlefont, standoff=8),
             minor=dict(dtick=3, tick0=24, ticks="outside", ticklen=3, tickcolor="#333",
                        showgrid=(overlay is None), gridcolor="#c9c2b2",
                        griddash="dash", gridwidth=1))
    if overlay is None:
        d["domain"] = domain
    else:
        d["overlaying"] = overlay
        d["matches"] = overlay
    return d


top_dom = [py(588), 1]
bot_dom = [0, py(645)]

leg_common = dict(bgcolor="rgba(0,0,0,0)", borderwidth=0,
                  font=dict(family=FONT, size=10, color="#111"),
                  xanchor="left", yanchor="bottom", tracegroupgap=0)

fig.update_layout(
    width=W, height=H,
    margin=dict(l=ML, r=MR, t=MT, b=MB),
    paper_bgcolor="white", plot_bgcolor=BG,
    font=dict(family=FONT, color="#111"),
    bargap=0, barmode="overlay",
    xaxis=xaxis("%H:%M", "y"),
    xaxis2=xaxis("%H:%M:%S", "y2"),
    yaxis=yaxis(top_dom, "x"),
    yaxis2=yaxis(bot_dom, "x2"),
    yaxis3=yaxis(None, "x", side="right", overlay="y"),
    yaxis4=yaxis(None, "x2", side="right", overlay="y2"),
    legend=dict(x=px(2142), y=py(583), **leg_common),
    legend2=dict(x=px(2244), y=py(583), **leg_common),
    legend3=dict(x=px(2262), y=py(1146), **leg_common),
    showlegend=True,
    annotations=[
        dict(text="<b>data from [5004/mic0]</b>",
             x=px(24), y=py(18), xref="paper", yref="paper", xanchor="left", yanchor="middle",
             showarrow=False, font=dict(family=FONT, size=14, color="black")),
        dict(text="<b>starting point is [20240910_000008]</b>",
             x=px(24), y=py(34), xref="paper", yref="paper", xanchor="left", yanchor="middle",
             showarrow=False, font=dict(family=FONT, size=14, color="black")),
        dict(text="<b>average and peak noise level (1 min sampling)</b>",
             x=0, y=py(71), xref="paper", yref="paper", xanchor="left", yanchor="middle",
             showarrow=False, font=dict(family=FONT, size=11, color="black")),
        dict(text="<b>average noise level (5 min with 15s min/max dB envelope)</b>",
             x=0, y=py(633), xref="paper", yref="paper", xanchor="left", yanchor="middle",
             showarrow=False, font=dict(family=FONT, size=11, color="black")),
    ],
    shapes=[
        dict(type="rect", xref="paper", yref="paper", x0=px(2138), x1=px(2340),
             y0=py(585), y1=py(520), line=dict(color="#dcc8a0", width=1.2),
             fillcolor="rgba(255,247,220,0.85)", layer="above"),
        dict(type="rect", xref="paper", yref="paper", x0=px(2258), x1=px(2340),
             y0=py(1147), y1=py(1082), line=dict(color="#dcc8a0", width=1.2),
             fillcolor="rgba(255,247,220,0.85)", layer="above"),
    ],
)

fig.write_html("out.html")
